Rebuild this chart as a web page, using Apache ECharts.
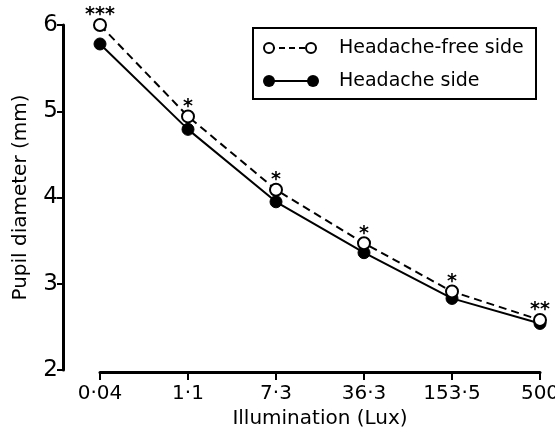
<!DOCTYPE html>
<html>
<head>
<meta charset="utf-8">
<script src="https://cdn.jsdelivr.net/npm/echarts@6/dist/echarts.min.js"></script>
<style>
  html, body { margin: 0; padding: 0; background: #fff; }
  #chart { width: 555px; height: 433px; }
</style>
</head>
<body>
<div id="chart"></div>
<script>
// illumination levels (Lux)
const illumination = ['0·04', '1·1', '7·3', '36·3', '153·5', '500']
// pupil diameter (mm)
const freeSide = [6.0, 4.94, 4.09, 3.47, 2.91, 2.58]
const headacheSide = [5.78, 4.79, 3.95, 3.36, 2.83, 2.54]
// significance marks above the headache-free points
const stars = ['***', '*', '*', '*', '*', '**']

const font = 'DejaVu Sans'
const chart = echarts.init(document.getElementById('chart'))

chart.setOption({
  animation: false,
  backgroundColor: '#fff',
  textStyle: { fontFamily: font, color: '#000' },
  grid: { left: 100, right: 15, top: 25, bottom: 63, outerBoundsMode: 'none' },
  xAxis: {
    type: 'category',
    data: illumination,
    boundaryGap: false,
    offset: 2,
    name: 'Illumination (Lux)',
    nameLocation: 'middle',
    nameGap: 36,
    nameTextStyle: { fontSize: 20, fontFamily: font, color: '#000' },
    axisLine: { lineStyle: { color: '#000', width: 3 } },
    axisTick: { length: 8, lineStyle: { color: '#000', width: 2 } },
    axisLabel: { fontSize: 20, color: '#000', margin: 12, fontFamily: font },
    splitLine: { show: false }
  },
  yAxis: {
    type: 'value',
    min: 2,
    max: 6,
    interval: 1,
    offset: 37,
    name: 'Pupil diameter (mm)',
    nameLocation: 'middle',
    nameGap: 32,
    nameTextStyle: { fontSize: 20, fontFamily: font, color: '#000' },
    axisLine: { show: true, lineStyle: { color: '#000', width: 3 } },
    axisTick: { show: true, length: 6, lineStyle: { color: '#000', width: 2 } },
    axisLabel: { fontSize: 23, color: '#000', margin: 5, fontFamily: font },
    splitLine: { show: false }
  },
  series: [
    {
      name: 'Headache side',
      type: 'line',
      data: headacheSide,
      symbol: 'circle',
      symbolSize: 12,
      lineStyle: { color: '#000', width: 2 },
      itemStyle: { color: '#000', borderColor: '#000', borderWidth: 1 },
      z: 2
    },
    {
      name: 'Headache-free side',
      type: 'line',
      data: freeSide.map((v, i) => ({ value: v, label: { formatter: stars[i] } })),
      symbol: 'circle',
      symbolSize: 12,
      lineStyle: { color: '#000', width: 2, type: [8, 5] },
      itemStyle: { color: '#fff', borderColor: '#000', borderWidth: 2 },
      label: {
        show: true,
        position: 'top',
        distance: 0,
        offset: [0, 7],
        fontSize: 19,
        fontWeight: 'bold',
        color: '#000',
        fontFamily: font
      },
      z: 3
    }
  ],
  graphic: [
    {
      type: 'group',
      left: 252,
      top: 27,
      children: [
        { type: 'rect', shape: { x: 0, y: 0, width: 283, height: 71 },
          style: { fill: '#fff', stroke: '#000', lineWidth: 2 } },
        { type: 'line', shape: { x1: 16, y1: 20, x2: 58, y2: 20 },
          style: { stroke: '#000', lineWidth: 1.8, lineDash: [6, 4] } },
        { type: 'circle', shape: { cx: 16, cy: 20, r: 5 }, style: { fill: '#fff', stroke: '#000', lineWidth: 2 } },
        { type: 'circle', shape: { cx: 58, cy: 20, r: 5 }, style: { fill: '#fff', stroke: '#000', lineWidth: 2 } },
        { type: 'text', x: 86, y: 20,
          style: { text: 'Headache-free side', font: '19px "DejaVu Sans"', fill: '#000', verticalAlign: 'middle' } },
        { type: 'line', shape: { x1: 16, y1: 53, x2: 60, y2: 53 },
          style: { stroke: '#000', lineWidth: 1.8 } },
        { type: 'circle', shape: { cx: 16, cy: 53, r: 6 }, style: { fill: '#000' } },
        { type: 'circle', shape: { cx: 60, cy: 53, r: 6 }, style: { fill: '#000' } },
        { type: 'text', x: 86, y: 53,
          style: { text: 'Headache side', font: '19px "DejaVu Sans"', fill: '#000', verticalAlign: 'middle' } }
      ]
    }
  ]
})

window.addEventListener('resize', () => chart.resize())
</script>
</body>
</html>
